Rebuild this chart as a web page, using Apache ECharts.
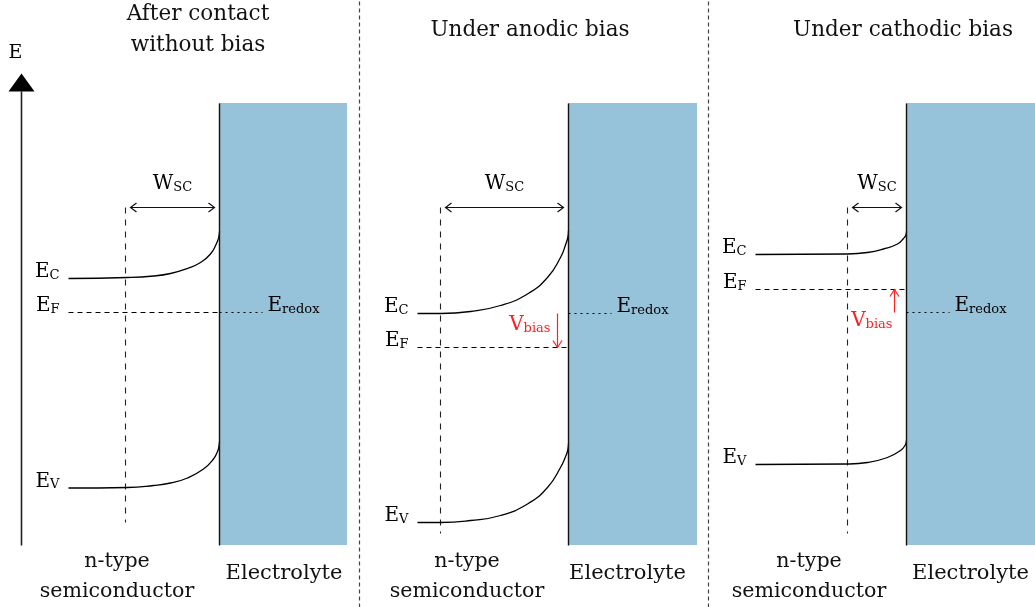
<!DOCTYPE html>
<html>
<head>
<meta charset="utf-8">
<script src="https://cdn.jsdelivr.net/npm/echarts@6/dist/echarts.min.js"></script>
<style>
  html, body { margin: 0; padding: 0; background: #ffffff; }
  #chart { width: 1035px; height: 607px; }
</style>
</head>
<body>
<div id="chart"></div>
<script>
// ---------------- DATA (diagram units: x = position, E = energy, upward) ----------------
const panelTitles = ['After contact\nwithout bias', 'Under anodic bias', 'Under cathodic bias'];
const semiconductorLabel = 'n-type\nsemiconductor';
const electrolyteLabel = 'Electrolyte';

const frameBottomE = 62;          // bottom of the band diagrams
const frameTopE = 504;            // top of the electrolyte blocks
const energyAxisX = 21;
const energyAxisTopE = 534;

const interfaceX = [219, 568, 906];
const electrolyteEndX = [347, 697, 1035];
const depletionEdgeX = [125, 440, 847];
const depletionTopE = [400, 400, 400];
const depletionBottomE = [85, 74, 74];
const bulkStartX = [68, 417, 755];

const fermiLevel = [295, 260, 318];
const redoxLevel = [295, 294, 295];
const redoxLineEndX = [262, 611, 949];

// conduction band edge
const ecPanel1 = [[68,329],[127,330],[153,331.5],[170,334],[187,339],[200,345],[210,353.5],[216,364],[218.2,370],[219,376]];
const ecPanel2 = [[417,294],[440,294],[470,296],[500,302],[527,313.5],[547,330],[560,350],[565,362.5],[567.3,370],[568,377]];
const ecPanel3 = [[755,353],[847,353.5],[867,355],[883,358.5],[897,363.5],[903,369],[905.4,372.5],[906,376]];
// valence band edge
const evPanel1 = [[68,119.5],[127,120],[153,122],[170,124.5],[187,129.5],[203,138.5],[213,148.5],[217,156],[218.4,161],[219,166]];
const evPanel2 = [[417,85],[440,85],[470,87],[500,92],[527,103.5],[547,120],[560,140],[565.5,152],[567.4,158],[568,164]];
const evPanel3 = [[755,143],[847,143.5],[867,145],[887,150],[900,157],[904.5,162],[906,167]];

const ecCurves = [ecPanel1, ecPanel2, ecPanel3];
const evCurves = [evPanel1, evPanel2, evPanel3];

const dividerX = [359, 708];
const biasPanels = [1, 2];        // panels with an applied bias
const biasArrowX = [557, 894];

// ---------------- STYLE / LAYOUT ----------------
const FONT = '"DejaVu Serif", "Liberation Serif", serif';
const INK = '#000000';
const RED = '#ff2020';
const ELECTROLYTE = '#96c3da';

function rich(color) {
  return {
    m: { fontSize: 20, fontFamily: FONT, lineHeight: 20, verticalAlign: 'bottom', fill: color },
    s: { fontSize: 13, fontFamily: FONT, lineHeight: 6, verticalAlign: 'bottom', fill: color }
  };
}

const series = [];
function addLine(data, lineStyle, extra) {
  series.push(Object.assign({
    type: 'line', data: data, symbol: 'none', silent: true, animation: false,
    lineStyle: lineStyle, z: 3
  }, extra || {}));
}

// electrolyte blocks
series.push({
  type: 'custom', silent: true, animation: false, z: 1,
  data: interfaceX.map((x, i) => [x, frameTopE, electrolyteEndX[i], frameBottomE]),
  renderItem: function (params, api) {
    const p1 = api.coord([api.value(0), api.value(1)]);
    const p2 = api.coord([api.value(2), api.value(3)]);
    const x1 = Math.floor(p1[0]), y1 = Math.floor(p1[1]);
    const x2 = Math.floor(p2[0]), y2 = Math.floor(p2[1]);
    return { type: 'rect', shape: { x: x1, y: y1, width: x2 - x1, height: y2 - y1 },
      style: { fill: ELECTROLYTE } };
  }
});

// panel dividers
dividerX.forEach(x => addLine([[x, 0], [x, 607]], { color: '#444', width: 1.2, type: [4, 3] }));

// energy axis
addLine([[energyAxisX, frameBottomE], [energyAxisX, energyAxisTopE - 18]], { color: '#222', width: 1.6 });

interfaceX.forEach((ix, i) => {
  // interface line
  addLine([[ix, frameTopE], [ix, frameBottomE]], { color: '#111', width: 1.4 }, { z: 4 });
  // depletion edge
  addLine([[depletionEdgeX[i], depletionTopE[i]], [depletionEdgeX[i], depletionBottomE[i]]],
    { color: '#222', width: 1.1, type: [6, 6] });
  // Fermi level
  addLine([[bulkStartX[i], fermiLevel[i]], [ix, fermiLevel[i]]], { color: INK, width: 1.1, type: [5, 4] });
  // redox level
  addLine([[ix, redoxLevel[i]], [redoxLineEndX[i], redoxLevel[i]]], { color: INK, width: 1.1, type: [2, 4] }, { z: 5 });
  // bands
  addLine(ecCurves[i], { color: INK, width: 1.3 }, { smooth: 0.5 });
  addLine(evCurves[i], { color: INK, width: 1.3 }, { smooth: 0.5 });
});

// energy axis arrow head + label
series.push({
  type: 'custom', silent: true, animation: false, z: 6,
  data: [[energyAxisX, energyAxisTopE]],
  renderItem: function (params, api) {
    const t = api.coord([api.value(0), api.value(1)]);
    return { type: 'group', children: [
      { type: 'polygon', shape: { points: [[t[0], t[1]], [t[0] + 13, t[1] + 18], [t[0] - 13, t[1] + 18]] },
        style: { fill: '#000' } },
      { type: 'text', x: t[0] - 6, y: t[1] - 20,
        style: { text: 'E', font: '19px ' + FONT, fill: INK, align: 'center', verticalAlign: 'middle' } }
    ] };
  }
});

// W_SC double arrows
series.push({
  type: 'custom', silent: true, animation: false, z: 6,
  data: interfaceX.map((ix, i) => [depletionEdgeX[i] + 5, ix - 5, depletionTopE[i]]),
  renderItem: function (params, api) {
    const a = api.coord([api.value(0), api.value(2)]);
    const b = api.coord([api.value(1), api.value(2)]);
    const st = { stroke: '#111', lineWidth: 1.2, fill: null };
    return { type: 'group', children: [
      { type: 'line', shape: { x1: a[0], y1: a[1], x2: b[0], y2: b[1] }, style: st },
      { type: 'polyline', shape: { points: [[a[0] + 6, a[1] - 4.5], [a[0], a[1]], [a[0] + 6, a[1] + 4.5]] }, style: st },
      { type: 'polyline', shape: { points: [[b[0] - 6, b[1] - 4.5], [b[0], b[1]], [b[0] - 6, b[1] + 4.5]] }, style: st },
      { type: 'text', x: (a[0] + b[0]) / 2, y: a[1] - 17 - 16.5,
        style: { text: '{m|W}{s|SC}', rich: rich(INK), fill: INK, align: 'center', verticalAlign: 'top' } }
    ] };
  }
});

// V_bias arrows (from E_redox to E_F)
const biasLabelOffset = [[-7, 18], [-2, 15]];
series.push({
  type: 'custom', silent: true, animation: false, z: 6,
  data: biasPanels.map((p, k) => [biasArrowX[k], redoxLevel[p], fermiLevel[p], k]),
  renderItem: function (params, api) {
    const a = api.coord([api.value(0), api.value(1)]);
    const b = api.coord([api.value(0), api.value(2)]);
    const k = api.value(3);
    const dir = b[1] > a[1] ? 1 : -1;
    const st = { stroke: RED, lineWidth: 1.2, fill: null };
    const off = biasLabelOffset[k];
    return { type: 'group', children: [
      { type: 'line', shape: { x1: a[0], y1: a[1], x2: b[0], y2: b[1] }, style: st },
      { type: 'polyline', shape: { points: [[b[0] - 4.5, b[1] - dir * 7], [b[0], b[1]], [b[0] + 4.5, b[1] - dir * 7]] }, style: st },
      { type: 'text', x: a[0] + off[0], y: a[1] + off[1] - 16.5,
        style: { text: '{m|V}{s|bias}', rich: rich(RED), fill: RED, align: 'right', verticalAlign: 'top' } }
    ] };
  }
});

// level labels
const levelLabels = [];
interfaceX.forEach((ix, i) => {
  levelLabels.push({ value: [bulkStartX[i], ecCurves[i][0][1]], sub: 'C', side: 'right' });
  levelLabels.push({ value: [bulkStartX[i], fermiLevel[i]], sub: 'F', side: 'right' });
  levelLabels.push({ value: [bulkStartX[i], evCurves[i][0][1]], sub: 'V', side: 'right' });
  levelLabels.push({ value: [redoxLineEndX[i], redoxLevel[i]], sub: 'redox', side: 'left' });
});
series.push({
  type: 'custom', silent: true, animation: false, z: 7,
  data: levelLabels.map(d => d.value),
  renderItem: function (params, api) {
    const d = levelLabels[params.dataIndex];
    const p = api.coord([api.value(0), api.value(1)]);
    const right = d.side === 'right';
    return { type: 'text', x: right ? p[0] - 9 : p[0] + 5, y: p[1] - 16.5,
      style: { text: '{m|E}{s|' + d.sub + '}', rich: rich(INK), fill: INK,
        align: right ? 'right' : 'left', verticalAlign: 'top' } };
  }
});

// ---------------- layout texts ----------------
const titleX = [198, 530, 903];
const semiX = [117, 467, 809];
const electroX = [284, 627.5, 970.5];
const graphic = [];
panelTitles.forEach((t, i) => {
  graphic.push({ type: 'text', x: titleX[i], y: 30, silent: true,
    style: { text: t, font: '21.5px ' + FONT, fill: '#111', align: 'center', verticalAlign: 'middle', lineHeight: 31 } });
  graphic.push({ type: 'text', x: semiX[i], y: 576.5, silent: true,
    style: { text: semiconductorLabel, font: '20.6px ' + FONT, fill: '#111', align: 'center', verticalAlign: 'middle', lineHeight: 30 } });
  graphic.push({ type: 'text', x: electroX[i], y: 573.5, silent: true,
    style: { text: electrolyteLabel, font: '21px ' + FONT, fill: '#111', align: 'center', verticalAlign: 'middle' } });
});

const chart = echarts.init(document.getElementById('chart'), null, { renderer: 'canvas' });
chart.setOption({
  animation: false,
  backgroundColor: '#ffffff',
  // half-pixel shift so that 1px strokes fall on pixel centres
  grid: { left: 0, right: 0, top: 0, bottom: 0 },
  xAxis: { type: 'value', min: -0.5, max: 1034.5, show: false },
  yAxis: { type: 'value', min: 0.5, max: 607.5, show: false },
  graphic: graphic,
  series: series
});
</script>
</body>
</html>
